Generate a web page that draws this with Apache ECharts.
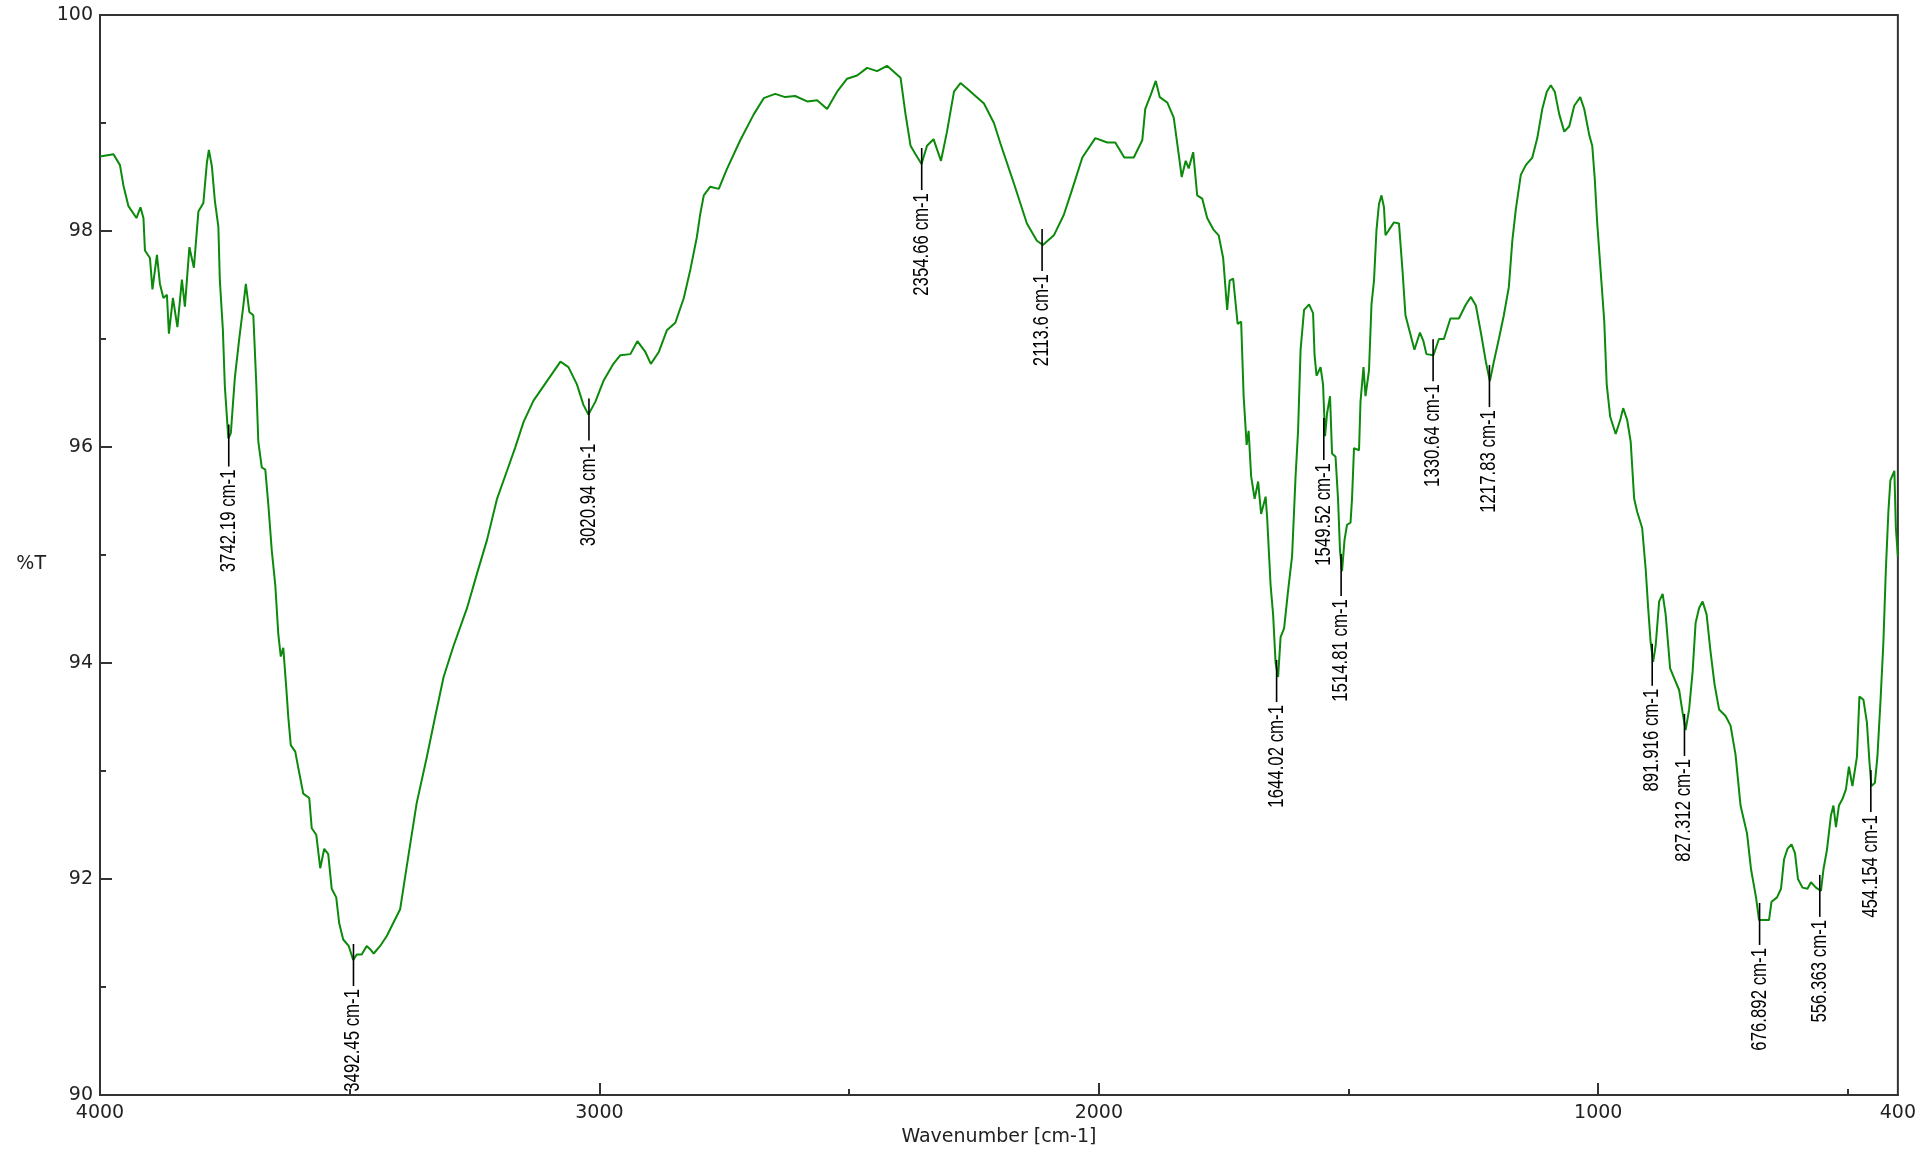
<!DOCTYPE html>
<html>
<head>
<meta charset="utf-8">
<script src="https://cdn.jsdelivr.net/npm/echarts@6/dist/echarts.min.js"></script>
<style>
html,body{margin:0;padding:0;background:#fff;}
#chart{width:1919px;height:1153px;}
</style>
</head>
<body>
<div id="chart"></div>
<script>
// Spectrum: wavenumber (cm-1) and %T
const wavenumbers = [
4000,3973,3960,3953,3943,3927,3919,3913,3910,3900,3895,3886,3880,3873,3866,3862,3854,3845,3836,3830,
3821,3812,3803,3793,3786,3782,3776,3770,3763,3760,3754,3750,3743,3738,3730,3721,3714,3708,3701,3693,
3687,3683,3676,3669,3663,3656,3649,3643,3638,3633,3627,3623,3618,3609,3603,3593,3581,3576,3567,3559,
3551,3543,3536,3527,3521,3513,3502,3493,3486,3476,3466,3459,3452,3439,3426,3412,3399,3386,3366,3346,
3329,3312,3292,3265,3245,3225,3205,3185,3169,3152,3132,3105,3078,3062,3045,3032,3022,3008,2992,2972,
2958,2938,2924,2908,2897,2881,2865,2848,2831,2818,2805,2798,2791,2778,2761,2745,2718,2691,2671,2648,
2628,2608,2584,2564,2544,2524,2504,2484,2464,2444,2424,2397,2387,2377,2367,2355,2344,2331,2316,2304,
2290,2277,2264,2230,2210,2197,2170,2144,2124,2112,2090,2070,2053,2033,2007,1983,1967,1949,1930,1913,
1907,1896,1886,1878,1863,1850,1840,1834,1826,1820,1811,1803,1793,1783,1770,1760,1751,1743,1738,1731,
1722,1715,1710,1704,1700,1695,1688,1681,1675,1666,1663,1656,1651,1646,1641,1636,1629,1621,1613,1606,
1601,1596,1589,1579,1571,1568,1564,1556,1551,1547,1543,1537,1533,1526,1521,1517,1513,1508,1503,1496,
1493,1489,1479,1476,1470,1466,1459,1454,1449,1444,1439,1434,1429,1426,1419,1409,1399,1392,1386,1377,
1368,1357,1350,1344,1330,1319,1309,1296,1279,1265,1255,1245,1235,1225,1217,1209,1199,1189,1179,1172,
1165,1155,1145,1132,1122,1112,1103,1095,1087,1078,1068,1058,1048,1036,1028,1018,1012,1007,1002,997,
988,983,976,965,956,950,942,935,928,922,912,905,900,895,890,885,878,871,865,856,
848,838,831,825,818,811,805,798,791,783,775,767,758,745,735,725,715,702,694,684,
678,668,658,653,642,634,628,621,613,606,600,591,581,574,564,554,549,542,534,529,
524,518,511,504,498,491,482,477,469,462,457,453,446,441,435,429,424,419,415,407,
404,400
];
const transmittance = [
98.69,98.71,98.61,98.42,98.23,98.12,98.22,98.12,97.82,97.75,97.46,97.78,97.51,97.38,97.41,97.05,97.38,97.11,97.55,97.30,
97.85,97.66,98.18,98.26,98.63,98.75,98.60,98.28,98.04,97.54,97.09,96.56,96.08,96.13,96.64,97.01,97.27,97.51,97.25,97.22,
96.58,96.05,95.81,95.79,95.47,95.04,94.72,94.27,94.06,94.14,93.77,93.50,93.24,93.18,93.03,92.79,92.75,92.47,92.41,92.10,
92.28,92.23,91.91,91.83,91.59,91.44,91.38,91.25,91.30,91.30,91.38,91.35,91.31,91.38,91.47,91.60,91.72,92.11,92.70,93.12,
93.50,93.87,94.16,94.51,94.83,95.14,95.52,95.78,95.99,96.23,96.43,96.61,96.79,96.74,96.58,96.39,96.30,96.42,96.61,96.77,
96.85,96.86,96.98,96.88,96.77,96.88,97.08,97.15,97.38,97.64,97.94,98.16,98.33,98.41,98.39,98.57,98.84,99.08,99.23,99.27,
99.24,99.25,99.20,99.21,99.13,99.29,99.41,99.44,99.51,99.48,99.53,99.42,99.08,98.79,98.71,98.62,98.79,98.85,98.65,98.92,
99.29,99.37,99.32,99.18,99.00,98.81,98.44,98.07,97.91,97.87,97.96,98.15,98.39,98.68,98.86,98.82,98.82,98.68,98.68,98.84,
99.13,99.26,99.39,99.24,99.19,99.05,98.71,98.50,98.65,98.58,98.73,98.33,98.30,98.12,98.01,97.96,97.75,97.27,97.54,97.56,
97.14,97.16,96.47,96.02,96.15,95.73,95.52,95.68,95.38,95.54,95.35,94.72,94.45,94.00,93.87,94.24,94.32,94.67,94.99,95.73,
96.15,96.90,97.27,97.32,97.24,96.85,96.66,96.74,96.58,96.10,96.31,96.47,95.94,95.91,95.52,95.04,94.85,95.14,95.28,95.30,
95.52,95.99,95.97,96.42,96.74,96.47,96.71,97.32,97.54,98.01,98.25,98.33,98.22,97.96,98.01,98.08,98.07,97.64,97.22,97.06,
96.90,97.06,96.98,96.86,96.85,97.00,97.00,97.19,97.19,97.32,97.39,97.31,97.06,96.79,96.61,96.79,97.00,97.22,97.48,97.91,
98.20,98.52,98.61,98.68,98.86,99.13,99.29,99.35,99.29,99.08,98.92,98.97,99.16,99.24,99.13,98.89,98.79,98.49,98.07,97.75,
97.17,96.58,96.28,96.12,96.25,96.36,96.25,96.05,95.52,95.40,95.25,94.87,94.51,94.19,94.01,94.16,94.57,94.64,94.45,93.95,
93.86,93.75,93.54,93.38,93.57,93.92,94.37,94.51,94.57,94.45,94.10,93.80,93.57,93.51,93.42,93.15,92.68,92.42,92.09,91.83,
91.62,91.62,91.62,91.79,91.83,91.91,92.18,92.28,92.32,92.24,92.00,91.92,91.91,91.97,91.92,91.89,92.09,92.27,92.59,92.68,
92.48,92.68,92.74,92.83,93.04,92.86,93.13,93.69,93.66,93.45,93.09,92.86,92.89,93.13,93.63,94.19,94.87,95.40,95.69,95.78,
95.25,94.99
];

// Peak annotations
const peakWavenumbers = [3742.19,3492.45,3020.94,2354.66,2113.6,1644.02,1549.52,1514.81,1330.64,1217.83,891.916,827.312,676.892,556.363,454.154];
const peakValues      = [96.06,  91.25,  96.30,  98.62,  97.87, 93.88,  96.12,  94.86,  96.85,  96.61,  94.03,  93.38,  91.63,  91.89,  92.86];
const peakLabels = peakWavenumbers.map(v => v + ' cm-1');

// Axis ticks
const xLabelValues = [4000, 3000, 2000, 1000, 400];
const xMajorTicks = [3000, 2000, 1000];
const xMinorTicks = [3500, 2500, 1500, 500];

const lineData = wavenumbers.map((w, i) => [w, transmittance[i]]);
const peakData = peakWavenumbers.map((w, i) => [w, peakValues[i]]);

const chart = echarts.init(document.getElementById('chart'));
const axisColor = '#333';
const labelFont = 'DejaVu Sans';

chart.setOption({
  animation: false,
  backgroundColor: '#fff',
  grid: {left: 100, right: 21, top: 15, bottom: 58, show: true, borderColor: axisColor, borderWidth: 2, backgroundColor: 'transparent'},
  xAxis: [{
    type: 'value', min: 400, max: 4000, inverse: true,
    name: 'Wavenumber [cm-1]', nameLocation: 'middle', nameGap: 32,
    nameTextStyle: {fontFamily: labelFont, fontSize: 19, color: '#222'},
    axisLine: {show: true, lineStyle: {color: axisColor, width: 2}},
    axisTick: {show: true, inside: true, length: 12, customValues: xMajorTicks, lineStyle: {color: axisColor, width: 2}},
    axisLabel: {show: true, customValues: xLabelValues, margin: 9, fontFamily: labelFont, fontSize: 19, color: '#222',
      formatter: function (v) { return String(v); }},
    splitLine: {show: false}
  }, {
    type: 'value', min: 400, max: 4000, inverse: true, position: 'bottom', gridIndex: 0,
    axisLine: {show: false},
    axisTick: {show: true, inside: true, length: 6, customValues: xMinorTicks, lineStyle: {color: axisColor, width: 2}},
    axisLabel: {show: false},
    splitLine: {show: false}
  }],
  yAxis: {
    type: 'value', min: 90, max: 100, interval: 2,
    name: '%T', nameLocation: 'middle', nameRotate: 0, nameGap: 54,
    nameTextStyle: {fontFamily: labelFont, fontSize: 19, color: '#222', verticalAlign: 'top'},
    axisLine: {show: true, lineStyle: {color: axisColor, width: 2}},
    axisTick: {show: true, inside: true, length: 12, lineStyle: {color: axisColor, width: 2}},
    minorTick: {show: true, splitNumber: 2, length: 6, lineStyle: {color: axisColor, width: 2}},
    axisLabel: {margin: 7, fontFamily: labelFont, fontSize: 19, color: '#222'},
    splitLine: {show: false}
  },
  series: [{
    type: 'line', data: lineData, showSymbol: false, symbol: 'none',
    lineStyle: {color: '#0b8a0b', width: 2}, z: 2
  }, {
    type: 'custom', data: peakData, clip: false, z: 3,
    renderItem: function (params, api) {
      const p = api.coord([api.value(0), api.value(1)]);
      const label = peakLabels[params.dataIndex];
      return {
        type: 'group',
        children: [{
          type: 'line',
          shape: {x1: p[0], y1: p[1] - 16, x2: p[0], y2: p[1] + 26},
          style: {stroke: '#000', lineWidth: 1.6}
        }, {
          type: 'text',
          x: p[0], y: p[1] + 29,
          rotation: Math.PI / 2,
          scaleX: 1.05, scaleY: 1.35,
          style: {text: label, fill: '#000', fontFamily: 'Liberation Sans', fontSize: 16, align: 'right', verticalAlign: 'middle'}
        }]
      };
    }
  }]
});
</script>
</body>
</html>
